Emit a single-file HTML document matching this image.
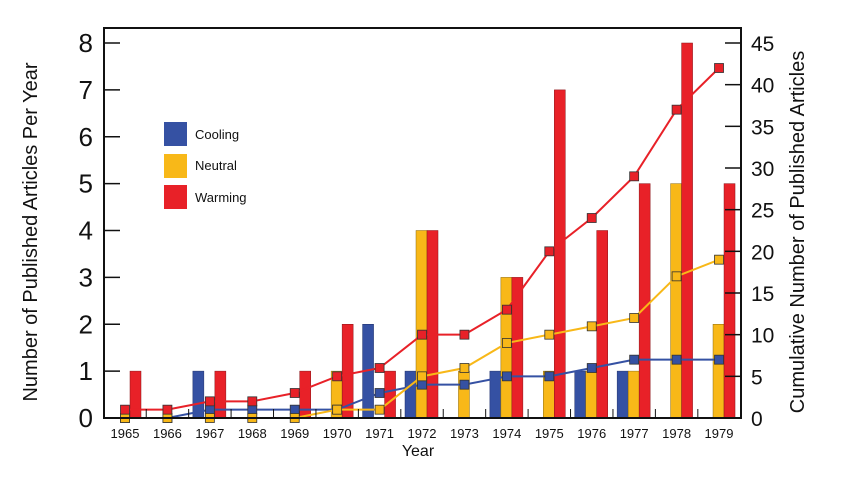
<!DOCTYPE html>
<html><head><meta charset="utf-8"><style>
body{margin:0;background:#fff;width:850px;height:488px;overflow:hidden}
svg{display:block;font-family:"Liberation Sans",Arial,sans-serif}
</style></head><body>
<svg id="chart" width="850" height="488" viewBox="0 0 850 488"></svg>
<script>
const years=[1965,1966,1967,1968,1969,1970,1971,1972,1973,1974,1975,1976,1977,1978,1979];
const cooling=[0,0,1,0,0,0,2,1,0,1,0,1,1,0,0];
const neutral=[0,0,0,0,0,1,0,4,1,3,1,1,1,5,2];
const warming=[1,0,1,0,1,2,1,4,0,3,7,4,5,8,5];
const cumCooling=[0,0,1,1,1,1,3,4,4,5,5,6,7,7,7];
const cumNeutral=[0,0,0,0,0,1,1,5,6,9,10,11,12,17,19];
const cumWarming=[1,1,2,2,3,5,6,10,10,13,20,24,29,37,42];
const leftTicks=[0,1,2,3,4,5,6,7,8];
const rightTicks=[0,5,10,15,20,25,30,35,40,45];

const NS="http://www.w3.org/2000/svg";
const svg=document.getElementById('chart');
const L=104,R=741,T=28,B=418,Y8=43;
const yL=v=>B-(B-Y8)*v/8;
const yR=v=>B-(B-Y8)*v/45;
const xC=i=>125+i*42.43;
const COL={c:'#3551a3',n:'#f8b818',w:'#e82128'};
const EDGE={c:'#1e2f6a',n:'#8a6a10',w:'#8a1418'};
function el(tag,attrs,parent){const e=document.createElementNS(NS,tag);for(const k in attrs)e.setAttribute(k,attrs[k]);(parent||svg).appendChild(e);return e;}

// bars
const series=[['c',cooling,-17],['n',neutral,-6],['w',warming,5]];
series.forEach(([k,arr,off])=>{
  arr.forEach((v,i)=>{
    if(v<=0)return;
    const r=el('rect',{x:xC(i)+off,y:yL(v),width:11,height:B-yL(v),fill:COL[k],stroke:EDGE[k],'stroke-width':0.5});
    
    
  });
});
// lines
[['c',cumCooling],['n',cumNeutral],['w',cumWarming]].forEach(([k,arr])=>{
  const p=el('polyline',{points:arr.map((v,i)=>xC(i)+','+yR(v)).join(' '),fill:'none',stroke:COL[k],'stroke-width':2});
  
  
  arr.forEach((v,i)=>{
    const m=el('rect',{x:xC(i)-4.5,y:yR(v)-4.5,width:9,height:9,fill:COL[k],stroke:'#333','stroke-width':0.8});
    
    
  });
});
// frame
const f=el('rect',{x:L,y:T,width:R-L,height:B-T,fill:'none',stroke:'#111','stroke-width':2});


// left ticks
leftTicks.forEach(v=>{
  el('line',{x1:L,x2:L+16,y1:yL(v),y2:yL(v),stroke:'#111','stroke-width':1.5});
  const t=el('text',{x:93,y:yL(v)+9,'text-anchor':'end','font-size':26,fill:'#111'});
  t.textContent=v;
  
  
});
rightTicks.forEach(v=>{
  el('line',{x1:R-16,x2:R,y1:yR(v),y2:yR(v),stroke:'#111','stroke-width':1.5});
  const t=el('text',{x:751,y:yR(v)+8,'font-size':21,fill:'#111'});
  t.textContent=v;
  
  
});
years.forEach((y,i)=>{
  if(i>0)el('line',{x1:xC(i)-21.2,x2:xC(i)-21.2,y1:B,y2:B-9,stroke:'#111','stroke-width':1});
  const t=el('text',{x:xC(i),y:438,'text-anchor':'middle','font-size':13,fill:'#111'});
  t.textContent=y;
  
  
});
</script>
<svg style="position:absolute;left:0;top:0" width="850" height="488">
<text x="418" y="456" text-anchor="middle" font-size="16" fill="#111" font-family="Liberation Sans,sans-serif">Year</text>
<text transform="translate(37,232) rotate(-90)" text-anchor="middle" font-size="20" fill="#111" font-family="Liberation Sans,sans-serif">Number of Published Articles Per Year</text>
<text transform="translate(804,232) rotate(-90)" text-anchor="middle" font-size="20" fill="#111" font-family="Liberation Sans,sans-serif">Cumulative Number of Published Articles</text>
<g font-family="Liberation Sans,sans-serif" font-size="13" fill="#111">
<rect x="164" y="122" width="23" height="24" fill="#3551a3"/>
<text x="195" y="139">Cooling</text>
<rect x="164" y="154" width="23" height="24" fill="#f8b818"/>
<text x="195" y="170">Neutral</text>
<rect x="164" y="185" width="23" height="24" fill="#e82128"/>
<text x="195" y="202">Warming</text>
</g>
</svg>
</body></html>
